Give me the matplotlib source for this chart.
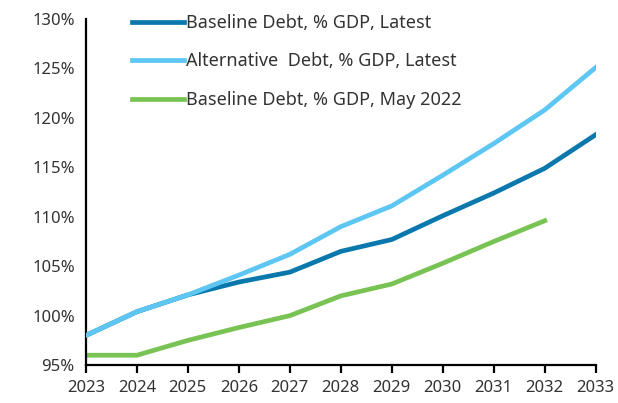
import matplotlib
matplotlib.use("Agg")
import matplotlib.pyplot as plt
from matplotlib.ticker import FuncFormatter

years = [2023, 2024, 2025, 2026, 2027, 2028, 2029, 2030, 2031, 2032, 2033]
baseline_latest = [98.0, 100.4, 102.1, 103.4, 104.4, 106.5, 107.7, 110.1, 112.4, 114.9, 118.3]
alternative_latest = [98.0, 100.4, 102.1, 104.1, 106.2, 109.0, 111.1, 114.2, 117.4, 120.8, 125.1]
baseline_may2022 = [96.0, 96.0, 97.5, 98.8, 100.0, 102.0, 103.2, 105.3, 107.5, 109.6]

labels = ["Baseline Debt, % GDP, Latest",
          "Alternative  Debt, % GDP, Latest",
          "Baseline Debt, % GDP, May 2022"]
colors = ["#0b78ad", "#5dc6f2", "#79c354"]

plt.rcParams['font.family'] = ['Noto Sans', 'DejaVu Sans']
text_col = "#333333"

fig = plt.figure(figsize=(6.18, 4.03), dpi=100)
ax = fig.add_axes([0.139, 0.094, 0.825, 0.859])

ax.plot(years, baseline_latest, color=colors[0], lw=3.4, label=labels[0], zorder=2)
ax.plot(years, alternative_latest, color=colors[1], lw=3.4, label=labels[1], zorder=3)
ax.plot(years[:len(baseline_may2022)], baseline_may2022, color=colors[2], lw=3.4,
        label=labels[2], zorder=2)

ax.set_xlim(2023, 2033)
ax.set_ylim(95, 130)
ax.set_xticks(years)
ax.set_yticks(range(95, 131, 5))
ax.yaxis.set_major_formatter(FuncFormatter(lambda v, p: f"{v:.0f}%"))

for s in ["top", "right"]:
    ax.spines[s].set_visible(False)
ax.spines["left"].set_linewidth(1.6)
ax.spines["bottom"].set_linewidth(1.6)
ax.tick_params(axis="x", direction="out", length=6, width=1.6, labelsize=12,
               labelcolor=text_col, pad=5)
ax.tick_params(axis="y", length=0, labelsize=12, labelcolor=text_col, pad=8)

leg = ax.legend(loc="upper left", bbox_to_anchor=(0.058, 1.061), frameon=False,
                fontsize=13, handlelength=2.9, handletextpad=0.12, labelspacing=1.13)
for t in leg.get_texts():
    t.set_color(text_col)

fig.savefig("out.png", dpi=100)
